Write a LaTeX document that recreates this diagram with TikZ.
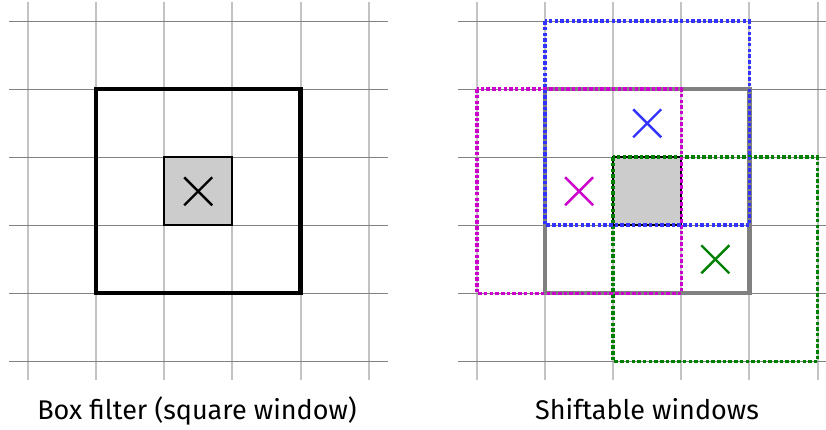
\documentclass[tikz,border=0pt]{standalone}
\usepackage{fontspec}
\setmainfont{Fira Sans}
\definecolor{gridv}{RGB}{195,195,195}
\definecolor{gridh}{RGB}{130,130,130}
\definecolor{myblue}{RGB}{51,51,255}
\definecolor{mymag}{RGB}{204,0,204}
\definecolor{mygreen}{RGB}{0,128,0}
\definecolor{cellgray}{RGB}{204,204,204}
\tikzset{
  vline/.style={gridv, line width=2pt},
  hline/.style={gridh, line width=1.3pt},
  winbox/.style={line width=4.2pt},
  dotbox/.style={line width=3.6pt, dash pattern=on 3.5pt off 2.2pt},
  cell/.style={fill=cellgray, draw=black, line width=1.8pt},
  crossline/.style={line width=2.4pt},
  caption/.style={font=\fontsize{27}{32}\selectfont, anchor=base}
}
\newcommand{\mycross}[3]{%
  \draw[crossline,#3] (#1-14,#2-14) -- (#1+14,#2+14);
  \draw[crossline,#3] (#1-14,#2+14) -- (#1+14,#2-14);}
\begin{document}
\begin{tikzpicture}[x=1pt,y=-1pt]
\useasboundingbox (0,0) rectangle (826,430);
\begin{scope}
\clip (0,0) rectangle (826,430);
% left grid
\foreach \i in {0,...,5} {
  \draw[vline] (27.7+68.2*\i,2) -- (27.7+68.2*\i,380);
}
\foreach \i in {0,...,5} {
  \draw[hline] (9,21.3+68*\i) -- (388,21.3+68*\i);
}
% right grid
\foreach \i in {0,...,5} {
  \draw[vline] (477+68.1*\i,2) -- (477+68.1*\i,380);
}
\foreach \i in {0,...,5} {
  \draw[hline] (458,21.3+68*\i) -- (836,21.3+68*\i);
}
\end{scope}
% left panel
\draw[winbox, black] (95.6,89.3) rectangle (300.5,293.3);
\draw[cell] (164.1,157.3) rectangle (232.3,225.3);
\mycross{198.2}{191.3}{black}
% right panel
\draw[winbox, gray] (545.1,89.3) rectangle (749.4,293.3);
\draw[cell] (613.2,157.3) rectangle (681.3,225.3);
\draw[dotbox, mygreen] (613.2,157.3) rectangle (817.5,361.3);
\draw[dotbox, mymag] (477,89.3) rectangle (681.3,293.3);
\draw[dotbox, myblue] (545.1,21.3) rectangle (749.4,225.3);
\mycross{647.2}{123.3}{myblue}
\mycross{579.1}{191.3}{mymag}
\mycross{715.3}{259.3}{mygreen}
% captions
\node[caption] (capL) at (197,419.5) {Box filter (square window)};
\node[caption] (capR) at (647,419.5) {Shiftable windows};
\end{tikzpicture}
\end{document}
